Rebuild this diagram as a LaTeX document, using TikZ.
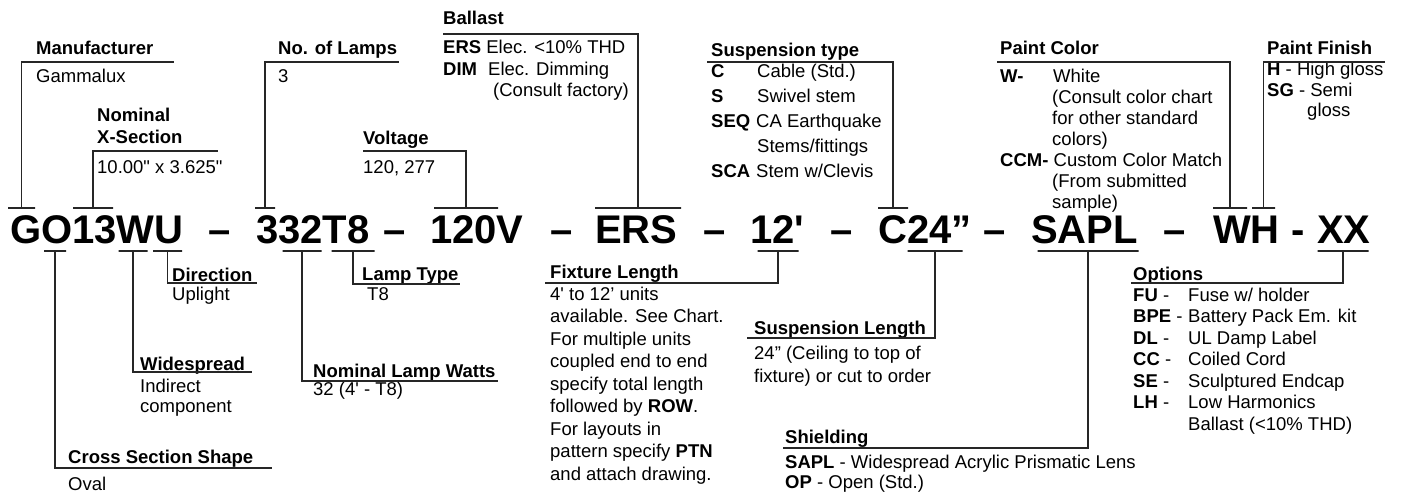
\documentclass[tikz,border=0pt]{standalone}
\usepackage{fontspec}
\setmainfont{Liberation Sans}[Ligatures=TeXOff]
\usepackage{tikz}
\usetikzlibrary{positioning}
\definecolor{ink}{HTML}{262626}
\newcommand{\rows}[1]{\begin{tabular}[t]{@{}l@{}}#1\end{tabular}}

\begin{document}
\begin{tikzpicture}[
  x=1pt, y=-1pt,
  code/.style={font=\fontsize{40}{40}\selectfont\bfseries, anchor=base west,
    inner sep=0pt},
  hdr/.style={font=\fontsize{18.5}{21}\selectfont\bfseries, anchor=base west,
    inner sep=0pt},
  txt/.style={font=\fontsize{18.5}{#1}\selectfont, anchor=base west,
    inner sep=0pt},
  txt/.default=21.5,
  codetick/.style={draw=ink, line width=1.2pt, minimum width=#1,
    minimum height=0pt, inner sep=0pt, outer sep=0pt},
  lead/.style={draw=ink, line width=1.2pt},
]
  \useasboundingbox (0,0) rectangle (1402,492);

  % catalogue code
  \node[code] (cGO) at (10,243) {GO13WU};
  \node[code] (c332) at (256,243) {332T8};
  \node[code] (c120) at (430,243) {120V};
  \node[code] (cERS) at (595,243) {ERS};
  \node[code] (c12) at (750,243) {12'};
  \node[code] (cC24) at (878,243) {C24”};
  \node[code] (cSAPL) at (1031,243) {SAPL};
  \node[code] (cWH) at (1213,243) {WH};
  \node[code] (cXX) at (1317,243) {XX};
  \foreach \x [count=\i] in {208,383,550,703,830,983,1163}
    \node[code] (d\i) at (\x,243) {–};
  \node[code] (d8) at (1291,243) {-};

  % keys over and under the code
  \foreach \n/\x/\w in {tG/21.5/27, t13/93/40, t3/265/20, t120/466/64,
      tERS/638/86, tC/893/30, tWc/1230/34, tH/1263.5/23}
    \node[codetick=\w] (\n) at (\x,208) {};
  \foreach \n/\x/\w in {tO/55/22, tWs/133/29, tU/167.5/29, t33/302/39,
      tT8/353/43, t12/778/41, t24/935/55, tSAPL/1088/101, tXX/1343/51}
    \node[codetick=\w] (\n) at (\x,251) {};

  % top labels
  \node[hdr] (hMan) at (36,55) {Manufacturer};
  \node[txt] (bMan) at (36,83) {Gammalux};
  \node[hdr] (hSec) at (97,122) {\rows{Nominal\\X-Section}};
  \node[txt] (bSec) at (97,173) {10.00" x 3.625"};
  \node[hdr] (hLamps) at (278,55) {No. of Lamps};
  \node[txt] (bLamps) at (278,83) {3};
  \node[hdr] (hVolt) at (363,144) {Voltage};
  \node[txt] (bVolt) at (363,173) {120, 277};
  \node[hdr] (hBal) at (443,25) {Ballast};
  \node[txt] (bBal) at (443,54) {\rows{\textbf{ERS} Elec. <10\% THD\\
    \makebox[45pt][l]{\textbf{DIM}}Elec. Dimming\\
    \hspace*{50pt}(Consult factory)}};
  \node[hdr] (hSusp) at (711,57) {Suspension type};
  \node[txt=25] (bSusp) at (711,78) {\rows{\makebox[46pt][l]{\textbf{C}}Cable (Std.)\\
    \makebox[46pt][l]{\textbf{S}}Swivel stem\\
    \makebox[45pt][l]{\textbf{SEQ}}CA Earthquake\\
    \hspace*{46pt}Stems/fittings\\
    \makebox[45pt][l]{\textbf{SCA}}Stem w/Clevis}};
  \node[hdr] (hColor) at (1000,55) {Paint Color};
  \node[txt=21] (bColor) at (1000,83) {\rows{\makebox[53pt][l]{\textbf{W-}}White\\
    \hspace*{52pt}(Consult color chart\\
    \hspace*{52pt}for other standard\\
    \hspace*{52pt}colors)\\
    \textbf{CCM-} Custom Color Match\\
    \hspace*{52pt}(From submitted\\
    \hspace*{52pt}sample)}};
  \node[hdr] (hFin) at (1267,55) {Paint Finish};
  \node[txt=20.5] (bFin) at (1267,76) {\rows{\textbf{H} - High gloss\\
    \textbf{SG} - Semi\\
    \hspace*{40pt}gloss}};

  % bottom labels
  \node[hdr] (hShape) at (68,463) {Cross Section Shape};
  \node[txt] (bShape) at (68,490) {Oval};
  \node[hdr] (hWide) at (140,370) {Widespread};
  \node[txt=20] (bWide) at (140,392) {\rows{Indirect\\component}};
  \node[hdr] (hDir) at (172,281) {Direction};
  \node[txt] (bDir) at (172,300) {Uplight};
  \node[hdr] (hWatts) at (313,377) {Nominal Lamp Watts};
  \node[txt] (bWatts) at (313,395) {32 (4' - T8)};
  \node[hdr] (hType) at (362,280) {Lamp Type};
  \node[txt] (bType) at (367,300) {T8};
  \node[hdr] (hLen) at (550,278) {Fixture Length};
  \node[txt=22.5] (bLen) at (550,300) {\rows{4' to 12’ units\\
    available. See Chart.\\
    For multiple units\\
    coupled end to end\\
    specify total length\\
    followed by \textbf{ROW}.\\
    For layouts in\\
    pattern specify \textbf{PTN}\\
    and attach drawing.}};
  \node[hdr] (hSLen) at (754,334) {Suspension Length};
  \node[txt=23] (bSLen) at (754,359) {\rows{24” (Ceiling to top of\\
    fixture) or cut to order}};
  \node[hdr] (hShield) at (785,443) {Shielding};
  \node[txt=20] (bShield) at (785,468) {\rows{\textbf{SAPL} - Widespread Acrylic Prismatic Lens\\
    \textbf{OP} - Open (Std.)}};
  \node[hdr] (hOpt) at (1133,280) {Options};
  \node[txt] (bOpt) at (1133,301) {\rows{\makebox[55pt][l]{\textbf{FU} -}Fuse w/ holder\\
    \makebox[55pt][l]{\textbf{BPE} -}Battery Pack Em. kit\\
    \makebox[55pt][l]{\textbf{DL} -}UL Damp Label\\
    \makebox[55pt][l]{\textbf{CC} -}Coiled Cord\\
    \makebox[55pt][l]{\textbf{SE} -}Sculptured Endcap\\
    \makebox[55pt][l]{\textbf{LH} -}Low Harmonics\\
    \hspace*{55pt}Ballast (<10\% THD)}};

  % leader ends
  \coordinate (eMan) at (174,62);
  \coordinate (eSec) at (218,151);
  \coordinate (eLamps) at (399,62);
  \coordinate (eVolt) at (363,151);
  \coordinate (eBal) at (443,34);
  \coordinate (eSusp) at (707,62);
  \coordinate (eColor) at (997,62);
  \coordinate (eFin) at (1385,62);
  \coordinate (eShape) at (272,468);
  \coordinate (eWide) at (252,372);
  \coordinate (eDir) at (257,283);
  \coordinate (eWatts) at (498,381);
  \coordinate (eType) at (460,284);
  \coordinate (eLen) at (545,283);
  \coordinate (eSLen) at (747,338);
  \coordinate (eShield) at (783,448);
  \coordinate (eOpt) at (1131,283);

  \foreach \t/\e in {tG/eMan, t13/eSec, t3/eLamps, t120/eVolt, tERS/eBal,
      tC/eSusp, tWc/eColor, tH/eFin, tO/eShape, tWs/eWide, tU/eDir,
      t33/eWatts, tT8/eType, t12/eLen, t24/eSLen, tSAPL/eShield, tXX/eOpt}
    \draw[lead] (\t.center) |- (\e);
\end{tikzpicture}
\end{document}
